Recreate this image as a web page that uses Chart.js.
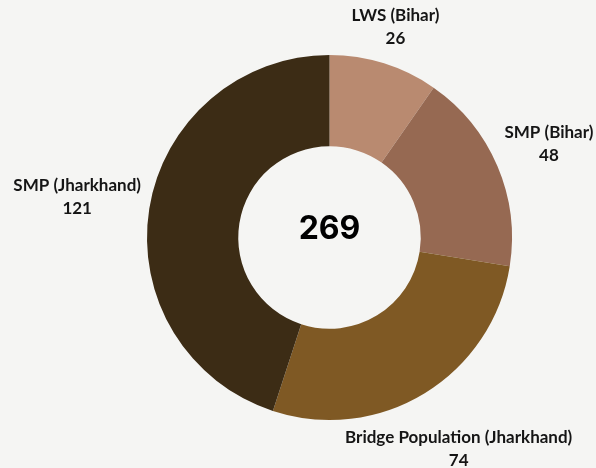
<!DOCTYPE html>
<html>
<head>
<meta charset="utf-8">
<script src="https://cdn.jsdelivr.net/npm/chart.js@4.4.1/dist/chart.umd.min.js"></script>
<style>
  html, body { margin: 0; padding: 0; background: #f5f5f3; }
  #wrap { width: 596px; height: 468px; position: relative; }
</style>
</head>
<body>
<div id="wrap"><canvas id="donutChart"></canvas></div>
<script>
// data
const labels = ['LWS (Bihar)', 'SMP (Bihar)', 'Bridge Population (Jharkhand)', 'SMP (Jharkhand)'];
const counts = [26, 48, 74, 121];
const colors = ['#b98a70', '#966952', '#7f5924', '#3c2c15'];

const total = counts.reduce((a, b) => a + b, 0);

// draws total in the hole + labels outside each slice
const labelPlugin = {
    id: 'outsideLabels',
    afterDraw(chart) {
        const ctx = chart.ctx;
        const arcs = chart.getDatasetMeta(0).data;
        if (!arcs.length) return;
        const cx = arcs[0].x, cy = arcs[0].y;
        const outer = arcs[0].outerRadius;

        ctx.save();
        ctx.fillStyle = '#000';
        ctx.font = '700 32px Inter';
        ctx.textAlign = 'center';
        ctx.textBaseline = 'middle';
        ctx.fillText(String(total), cx, cy - 8);

        ctx.font = 'bold 17px Lato';
        ctx.fillStyle = '#151515';
        const lineH = 23;
        const gap = 6;
        arcs.forEach((arc, i) => {
            const mid = (arc.startAngle + arc.endAngle) / 2;
            const ux = Math.cos(mid), uy = Math.sin(mid);
            const w = Math.max(ctx.measureText(labels[i]).width, ctx.measureText(String(counts[i])).width);
            const hw = w / 2, hh = lineH;
            // push the label box outward until it clears the ring
            let d = outer;
            for (let k = 0; k < 400; k++) {
                const bx = cx + ux * d, by = cy + uy * d;
                const nx = Math.min(Math.max(cx, bx - hw), bx + hw);
                const ny = Math.min(Math.max(cy, by - hh), by + hh);
                if (Math.hypot(nx - cx, ny - cy) >= outer + gap) break;
                d += 1;
            }
            const bx = cx + ux * d, by = cy + uy * d;
            ctx.fillText(labels[i], bx, by - lineH / 2);
            ctx.fillText(String(counts[i]), bx, by + lineH / 2);
        });
        ctx.restore();
    }
};

new Chart(document.getElementById('donutChart'), {
    type: 'doughnut',
    data: {
        labels: labels,
        datasets: [{
            data: counts,
            backgroundColor: colors,
            borderWidth: 0
        }]
    },
    options: {
        responsive: true,
        maintainAspectRatio: false,
        animation: false,
        cutout: '50%',
        layout: { padding: { top: 55, bottom: 48, left: 83, right: 20 } },
        plugins: {
            legend: { display: false },
            tooltip: { enabled: false }
        }
    },
    plugins: [labelPlugin]
});
</script>
</body>
</html>
